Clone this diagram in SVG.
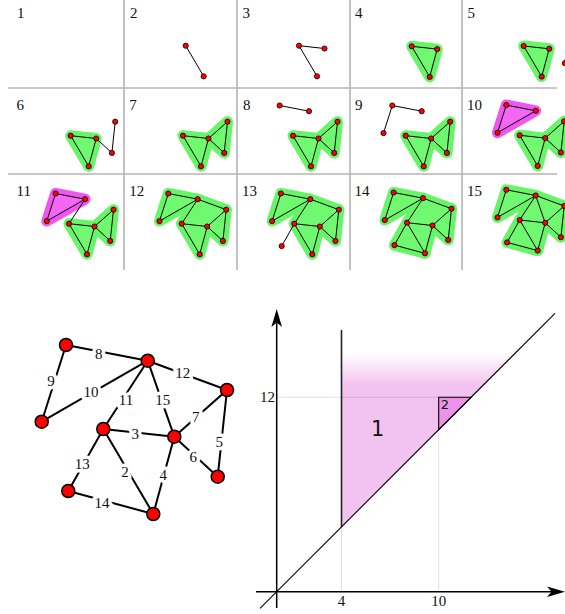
<svg xmlns="http://www.w3.org/2000/svg" xmlns:xlink="http://www.w3.org/1999/xlink" width="565" height="614" viewBox="0 0 565 614">
<style>
.grid{stroke:#b5b5b5;stroke-width:1.6;fill:none}
.lbl{font-family:"Liberation Serif","DejaVu Serif",serif;font-size:15px;fill:#111}
.e{stroke:#000;stroke-width:1;fill:none}
.n{fill:#f00;stroke:#000;stroke-width:0.8}
.gh{fill:#66f566;stroke:#66f566;stroke-width:11;stroke-linejoin:round}
.gf{fill:#70f870;stroke:none}
.mh{fill:#f055f0;stroke:#f055f0;stroke-width:11;stroke-linejoin:round}
.mf{fill:#f466f4;stroke:none}
.be{stroke:#000;stroke-width:2;fill:none}
.bn{fill:#f00;stroke:#000;stroke-width:1.5}
.bl{font-family:"Liberation Serif","DejaVu Serif",serif;font-size:15px;text-anchor:middle;fill:#111;paint-order:stroke;stroke:#fff;stroke-width:7;stroke-linejoin:round}
.ax{font-family:"Liberation Serif","DejaVu Serif",serif;font-size:15px;fill:#111}
.faint{stroke:#000;stroke-opacity:0.12;stroke-width:1;fill:none}
</style>
<defs>
<circle id="nA" class="n" cx="-13.4" cy="-30.2" r="2.6"/>
<circle id="nB" class="n" cx="16" cy="-24.5" r="2.6"/>
<circle id="nC" class="n" cx="44.5" cy="-14" r="2.6"/>
<circle id="nD" class="n" cx="-22.2" cy="-2.6" r="2.6"/>
<circle id="nE" class="n" cx="0" cy="0" r="2.6"/>
<circle id="nF" class="n" cx="25.5" cy="2.8" r="2.6"/>
<circle id="nG" class="n" cx="41.2" cy="17.2" r="2.6"/>
<circle id="nH" class="n" cx="-12.6" cy="22.4" r="2.6"/>
<circle id="nI" class="n" cx="18" cy="30.6" r="2.6"/>
<polygon id="fEFI" points="0,0 25.5,2.8 18,30.6"/>
<polygon id="fFCG" points="25.5,2.8 44.5,-14 41.2,17.2"/>
<polygon id="fABD" points="-13.4,-30.2 16,-24.5 -22.2,-2.6"/>
<polygon id="fBCFE" points="16,-24.5 44.5,-14 25.5,2.8 0,0"/>
<polygon id="fEHI" points="0,0 -12.6,22.4 18,30.6"/>
<linearGradient id="fade" gradientUnits="userSpaceOnUse" x1="0" y1="352" x2="0" y2="386">
<stop offset="0" stop-color="#f3c3ef" stop-opacity="0"/>
<stop offset="1" stop-color="#f3c3ef" stop-opacity="1"/>
</linearGradient>
</defs>

<g id="grid">
<path class="grid" d="M124,0V270M237,0V270M350,0V270M462,0V270M8,88H557M8,174H557"/>
</g>

<g id="labels" class="lbl">
<text x="17" y="18">1</text>
<text x="130" y="18">2</text>
<text x="242.5" y="18">3</text>
<text x="355" y="18">4</text>
<text x="467.5" y="18">5</text>
<text x="16.5" y="110">6</text>
<text x="129.3" y="110">7</text>
<text x="243" y="110">8</text>
<text x="355" y="110">9</text>
<text x="467" y="110">10</text>
<text x="16.5" y="195.5">11</text>
<text x="129.3" y="195.5">12</text>
<text x="242" y="195.5">13</text>
<text x="354.5" y="195.5">14</text>
<text x="467" y="195.5">15</text>
</g>

<g id="step2" transform="translate(185.7,45.7)">
<path class="e" d="M0,0L18,30.6"/>
<use href="#nE"/><use href="#nI"/>
</g>

<g id="step3" transform="translate(299,45.7)">
<path class="e" d="M0,0L18,30.6M0,0L25.5,2.8"/>
<use href="#nE"/><use href="#nF"/><use href="#nI"/>
</g>

<g id="step4" transform="translate(411.7,46.3)">
<use href="#fEFI" class="gh"/><use href="#fEFI" class="gf"/>
<path class="e" d="M0,0L18,30.6M0,0L25.5,2.8M25.5,2.8L18,30.6"/>
<use href="#nE"/><use href="#nF"/><use href="#nI"/>
</g>

<g id="step5" transform="translate(523.7,46)">
<use href="#fEFI" class="gh"/><use href="#fEFI" class="gf"/>
<path class="e" d="M0,0L18,30.6M0,0L25.5,2.8M25.5,2.8L18,30.6M44.5,-14L41.2,17.2"/>
<use href="#nE"/><use href="#nF"/><use href="#nI"/><use href="#nC"/><use href="#nG"/>
</g>

<g id="step6" transform="translate(70.7,135.7)">
<use href="#fEFI" class="gh"/><use href="#fEFI" class="gf"/>
<path class="e" d="M0,0L18,30.6M0,0L25.5,2.8M25.5,2.8L18,30.6M44.5,-14L41.2,17.2M25.5,2.8L41.2,17.2"/>
<use href="#nE"/><use href="#nF"/><use href="#nI"/><use href="#nC"/><use href="#nG"/>
</g>

<g id="step7" transform="translate(183,135.7)">
<use href="#fEFI" class="gh"/><use href="#fFCG" class="gh"/>
<use href="#fEFI" class="gf"/><use href="#fFCG" class="gf"/>
<path class="e" d="M0,0L18,30.6M0,0L25.5,2.8M25.5,2.8L18,30.6M44.5,-14L41.2,17.2M25.5,2.8L41.2,17.2M44.5,-14L25.5,2.8"/>
<use href="#nE"/><use href="#nF"/><use href="#nI"/><use href="#nC"/><use href="#nG"/>
</g>

<g id="step8" transform="translate(293,135.7)">
<use href="#fEFI" class="gh"/><use href="#fFCG" class="gh"/>
<use href="#fEFI" class="gf"/><use href="#fFCG" class="gf"/>
<path class="e" d="M0,0L18,30.6M0,0L25.5,2.8M25.5,2.8L18,30.6M44.5,-14L41.2,17.2M25.5,2.8L41.2,17.2M44.5,-14L25.5,2.8M-13.4,-30.2L16,-24.5"/>
<use href="#nE"/><use href="#nF"/><use href="#nI"/><use href="#nC"/><use href="#nG"/><use href="#nA"/><use href="#nB"/>
</g>

<g id="step9" transform="translate(405.7,135.7)">
<use href="#fEFI" class="gh"/><use href="#fFCG" class="gh"/>
<use href="#fEFI" class="gf"/><use href="#fFCG" class="gf"/>
<path class="e" d="M0,0L18,30.6M0,0L25.5,2.8M25.5,2.8L18,30.6M44.5,-14L41.2,17.2M25.5,2.8L41.2,17.2M44.5,-14L25.5,2.8M-13.4,-30.2L16,-24.5M-13.4,-30.2L-22.2,-2.6"/>
<use href="#nE"/><use href="#nF"/><use href="#nI"/><use href="#nC"/><use href="#nG"/><use href="#nA"/><use href="#nB"/><use href="#nD"/>
</g>

<g id="step10" transform="translate(519.7,135.3)">
<use href="#fEFI" class="gh"/><use href="#fFCG" class="gh"/>
<use href="#fEFI" class="gf"/><use href="#fFCG" class="gf"/>
<use href="#fABD" class="mh"/><use href="#fABD" class="mf"/>
<path class="e" d="M0,0L18,30.6M0,0L25.5,2.8M25.5,2.8L18,30.6M44.5,-14L41.2,17.2M25.5,2.8L41.2,17.2M44.5,-14L25.5,2.8M-13.4,-30.2L16,-24.5M-13.4,-30.2L-22.2,-2.6M-22.2,-2.6L16,-24.5"/>
<use href="#nE"/><use href="#nF"/><use href="#nI"/><use href="#nC"/><use href="#nG"/><use href="#nA"/><use href="#nB"/><use href="#nD"/>
</g>

<g id="step11" transform="translate(69,223.7)">
<use href="#fEFI" class="gh"/><use href="#fFCG" class="gh"/>
<use href="#fEFI" class="gf"/><use href="#fFCG" class="gf"/>
<use href="#fABD" class="mh"/><use href="#fABD" class="mf"/>
<path class="e" d="M0,0L18,30.6M0,0L25.5,2.8M25.5,2.8L18,30.6M44.5,-14L41.2,17.2M25.5,2.8L41.2,17.2M44.5,-14L25.5,2.8M-13.4,-30.2L16,-24.5M-13.4,-30.2L-22.2,-2.6M-22.2,-2.6L16,-24.5M16,-24.5L0,0"/>
<use href="#nE"/><use href="#nF"/><use href="#nI"/><use href="#nC"/><use href="#nG"/><use href="#nA"/><use href="#nB"/><use href="#nD"/>
</g>

<g id="step12" transform="translate(181.7,223.7)">
<use href="#fEFI" class="gh"/><use href="#fFCG" class="gh"/><use href="#fABD" class="gh"/><use href="#fBCFE" class="gh"/>
<use href="#fEFI" class="gf"/><use href="#fFCG" class="gf"/><use href="#fABD" class="gf"/><use href="#fBCFE" class="gf"/>
<path class="e" d="M0,0L18,30.6M0,0L25.5,2.8M25.5,2.8L18,30.6M44.5,-14L41.2,17.2M25.5,2.8L41.2,17.2M44.5,-14L25.5,2.8M-13.4,-30.2L16,-24.5M-13.4,-30.2L-22.2,-2.6M-22.2,-2.6L16,-24.5M16,-24.5L0,0M16,-24.5L44.5,-14"/>
<use href="#nE"/><use href="#nF"/><use href="#nI"/><use href="#nC"/><use href="#nG"/><use href="#nA"/><use href="#nB"/><use href="#nD"/>
</g>

<g id="step13" transform="translate(294.3,223.7)">
<use href="#fEFI" class="gh"/><use href="#fFCG" class="gh"/><use href="#fABD" class="gh"/><use href="#fBCFE" class="gh"/>
<use href="#fEFI" class="gf"/><use href="#fFCG" class="gf"/><use href="#fABD" class="gf"/><use href="#fBCFE" class="gf"/>
<path class="e" d="M0,0L18,30.6M0,0L25.5,2.8M25.5,2.8L18,30.6M44.5,-14L41.2,17.2M25.5,2.8L41.2,17.2M44.5,-14L25.5,2.8M-13.4,-30.2L16,-24.5M-13.4,-30.2L-22.2,-2.6M-22.2,-2.6L16,-24.5M16,-24.5L0,0M16,-24.5L44.5,-14M0,0L-12.6,22.4"/>
<use href="#nE"/><use href="#nF"/><use href="#nI"/><use href="#nC"/><use href="#nG"/><use href="#nA"/><use href="#nB"/><use href="#nD"/><use href="#nH"/>
</g>

<g id="step14" transform="translate(407,222.7)">
<use href="#fEFI" class="gh"/><use href="#fFCG" class="gh"/><use href="#fABD" class="gh"/><use href="#fBCFE" class="gh"/><use href="#fEHI" class="gh"/>
<use href="#fEFI" class="gf"/><use href="#fFCG" class="gf"/><use href="#fABD" class="gf"/><use href="#fBCFE" class="gf"/><use href="#fEHI" class="gf"/>
<path class="e" d="M0,0L18,30.6M0,0L25.5,2.8M25.5,2.8L18,30.6M44.5,-14L41.2,17.2M25.5,2.8L41.2,17.2M44.5,-14L25.5,2.8M-13.4,-30.2L16,-24.5M-13.4,-30.2L-22.2,-2.6M-22.2,-2.6L16,-24.5M16,-24.5L0,0M16,-24.5L44.5,-14M0,0L-12.6,22.4M-12.6,22.4L18,30.6"/>
<use href="#nE"/><use href="#nF"/><use href="#nI"/><use href="#nC"/><use href="#nG"/><use href="#nA"/><use href="#nB"/><use href="#nD"/><use href="#nH"/>
</g>

<g id="step15" transform="translate(519.7,220)">
<use href="#fEFI" class="gh"/><use href="#fFCG" class="gh"/><use href="#fABD" class="gh"/><use href="#fBCFE" class="gh"/><use href="#fEHI" class="gh"/>
<use href="#fEFI" class="gf"/><use href="#fFCG" class="gf"/><use href="#fABD" class="gf"/><use href="#fBCFE" class="gf"/><use href="#fEHI" class="gf"/>
<path class="e" d="M0,0L18,30.6M0,0L25.5,2.8M25.5,2.8L18,30.6M44.5,-14L41.2,17.2M25.5,2.8L41.2,17.2M44.5,-14L25.5,2.8M-13.4,-30.2L16,-24.5M-13.4,-30.2L-22.2,-2.6M-22.2,-2.6L16,-24.5M16,-24.5L0,0M16,-24.5L44.5,-14M0,0L-12.6,22.4M-12.6,22.4L18,30.6M16,-24.5L25.5,2.8"/>
<use href="#nE"/><use href="#nF"/><use href="#nI"/><use href="#nC"/><use href="#nG"/><use href="#nA"/><use href="#nB"/><use href="#nD"/><use href="#nH"/>
</g>

<!-- Large graph -->
<g id="connectors">
<path class="be" d="M66,345L147.7,360.7M66,345L41.7,421.7M41.7,421.7L147.7,360.7M147.7,360.7L103.3,429M147.7,360.7L174.3,436.7M147.7,360.7L227,390M227,390L174.3,436.7M227,390L217.7,476.7M174.3,436.7L217.7,476.7M103.3,429L174.3,436.7M103.3,429L153.3,514M174.3,436.7L153.3,514M103.3,429L68.3,491M68.3,491L153.3,514"/>
<text class="bl" x="98.7" y="358.5">8</text>
<text class="bl" x="51" y="386">9</text>
<text class="bl" x="91" y="397">10</text>
<text class="bl" x="126" y="404.5">11</text>
<text class="bl" x="162.7" y="405">15</text>
<text class="bl" x="182.7" y="377.5">12</text>
<text class="bl" x="195.7" y="421.5">7</text>
<text class="bl" x="219.3" y="446.5">5</text>
<text class="bl" x="193.3" y="462">6</text>
<text class="bl" x="135.3" y="439.3">3</text>
<text class="bl" x="125" y="477">2</text>
<text class="bl" x="163.3" y="480.3">4</text>
<text class="bl" x="82.3" y="468.6">13</text>
<text class="bl" x="102" y="507.6">14</text>
</g>
<g id="node-A"><circle class="bn" cx="66" cy="345" r="6.5"/></g>
<g id="node-B"><circle class="bn" cx="147.7" cy="360.7" r="6.5"/></g>
<g id="node-C"><circle class="bn" cx="227" cy="390" r="6.5"/></g>
<g id="node-D"><circle class="bn" cx="41.7" cy="421.7" r="6.5"/></g>
<g id="node-E"><circle class="bn" cx="103.3" cy="429" r="6.5"/></g>
<g id="node-F"><circle class="bn" cx="174.3" cy="436.7" r="6.5"/></g>
<g id="node-G"><circle class="bn" cx="217.7" cy="476.7" r="6.5"/></g>
<g id="node-H"><circle class="bn" cx="68.3" cy="491" r="6.5"/></g>
<g id="node-I"><circle class="bn" cx="153.3" cy="514" r="6.5"/></g>

<!-- Persistence diagram -->
<g id="plot">
<polygon points="341.5,526.9 341.5,352 516.4,352" fill="url(#fade)"/>
<polygon points="438.7,429.7 438.7,397.3 471.1,397.3" fill="#eb93e7" stroke="#000" stroke-width="1.1"/>
<path class="faint" d="M276.7,397.3H471.1M341.5,591.7V526.9M438.7,591.7V429.7"/>
<path d="M341.5,526.9V330" stroke="#222" stroke-width="1.6" fill="none"/>
<path d="M260,608.4L555,313.4" stroke="#000" stroke-width="1.1" fill="none"/>
<path d="M276.7,608V318M256,591.7H556" stroke="#000" stroke-width="1.5" fill="none"/>
<path d="M276.7,309L282,327L276.7,322.5L271.4,327Z" fill="#000"/>
<path d="M565,591.7L547,586.4L551.5,591.7L547,597Z" fill="#000"/>
<text class="ax" x="275" y="401.7" text-anchor="end">12</text>
<text class="ax" x="341.5" y="605.5" text-anchor="middle">4</text>
<text class="ax" x="438.7" y="605.5" text-anchor="middle">10</text>
<text x="377.7" y="435.5" text-anchor="middle" font-family="'DejaVu Sans',sans-serif" font-size="21" fill="#111">1</text>
<text x="445" y="409" text-anchor="middle" font-family="'DejaVu Sans',sans-serif" font-size="13" fill="#111">2</text>
</g>
</svg>
